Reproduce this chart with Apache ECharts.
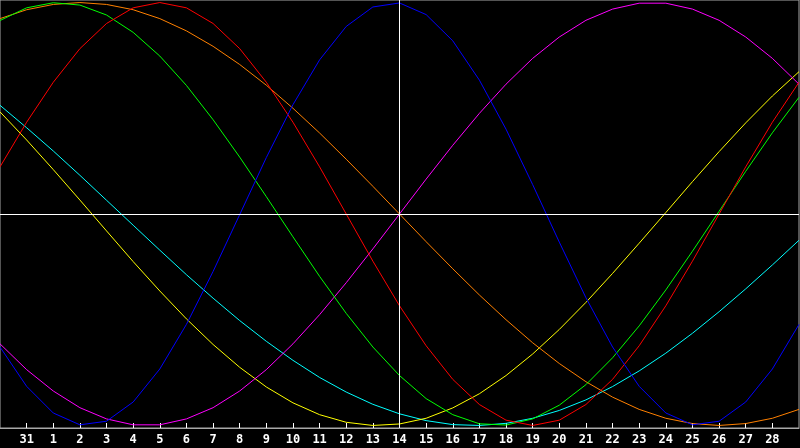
<!DOCTYPE html>
<html>
<head>
    <meta charset="utf-8">
    <title>Biorhythm</title>
    <script src="https://cdn.jsdelivr.net/npm/echarts@6/dist/echarts.min.js"></script>
    <style>
        html, body { margin: 0; padding: 0; background: #000; }
        #main { width: 800px; height: 448px; }
    </style>
</head>
<body>
<div id="main"></div>
<script type="text/javascript">
    // day labels, first and last sit on the frame and are not printed
    var days = ['30', '31', '1', '2', '3', '4', '5', '6', '7', '8', '9', '10', '11', '12', '13', '14',
        '15', '16', '17', '18', '19', '20', '21', '22', '23', '24', '25', '26', '27', '28', '29'];
    var today = '14';

    var blue = [-0.629, -0.815, -0.941, -0.997, -0.980, -0.889, -0.733, -0.522, -0.272, -0.003, 0.267,
        0.517, 0.729, 0.887, 0.979, 0.998, 0.943, 0.819, 0.633, 0.401, 0.139, -0.133, -0.396, -0.629,
        -0.815, -0.941, -0.997, -0.980, -0.889, -0.733, -0.522];
    var red = [0.223, 0.434, 0.623, 0.782, 0.901, 0.975, 1.000, 0.975, 0.901, 0.782, 0.623, 0.434,
        0.223, 0, -0.223, -0.434, -0.623, -0.782, -0.901, -0.975, -1.000, -0.975, -0.901, -0.782,
        -0.623, -0.434, -0.223, 0, 0.223, 0.434, 0.623];
    var green = [0.915, 0.975, 0.999, 0.988, 0.941, 0.859, 0.747, 0.608, 0.446, 0.269, 0.082, -0.108,
        -0.295, -0.470, -0.629, -0.764, -0.873, -0.949, -0.992, -0.998, -0.969, -0.904, -0.807, -0.680,
        -0.529, -0.359, -0.176, 0.013, 0.202, 0.384, 0.552];
    var orange = [0.924, 0.966, 0.991, 1.000, 0.991, 0.966, 0.924, 0.866, 0.793, 0.707, 0.609, 0.500,
        0.383, 0.259, 0.131, 0, -0.131, -0.259, -0.383, -0.500, -0.609, -0.707, -0.793, -0.866,
        -0.924, -0.966, -0.991, -1.000, -0.991, -0.966, -0.924];
    var magenta = [-0.614, -0.736, -0.837, -0.916, -0.969, -0.997, -0.997, -0.969, -0.916, -0.837,
        -0.736, -0.614, -0.476, -0.325, -0.165, 0, 0.165, 0.325, 0.476, 0.614, 0.736, 0.837, 0.916,
        0.969, 0.997, 0.997, 0.969, 0.916, 0.837, 0.736, 0.614];
    var cyan = [0.514, 0.408, 0.298, 0.183, 0.065, -0.053, -0.171, -0.287, -0.398, -0.504, -0.602,
        -0.692, -0.773, -0.842, -0.900, -0.945, -0.977, -0.996, -1.000, -0.990, -0.966, -0.929, -0.879,
        -0.816, -0.742, -0.658, -0.564, -0.462, -0.354, -0.241, -0.124];
    var yellow = [0.483, 0.350, 0.210, 0.066, -0.080, -0.225, -0.364, -0.496, -0.617, -0.725, -0.818,
        -0.893, -0.949, -0.985, -1.000, -0.993, -0.966, -0.917, -0.850, -0.764, -0.662, -0.546, -0.418,
        -0.281, -0.138, 0.007, 0.153, 0.295, 0.431, 0.558, 0.673];

    var curves = [
        { data: cyan, color: '#00ffff' },
        { data: yellow, color: '#ffff00' },
        { data: magenta, color: '#ff00ff' },
        { data: orange, color: '#ff8000' },
        { data: green, color: '#00ff00' },
        { data: red, color: '#ff0000' },
        { data: blue, color: '#0000ff' }
    ];

    function inner(index) {
        return index > 0 && index < days.length - 1;
    }

    var myChart = echarts.init(document.getElementById('main'));

    var series = curves.map(function (c) {
        return {
            type: 'line',
            data: c.data,
            symbol: 'none',
            silent: true,
            lineStyle: { color: c.color, width: 1 }
        };
    });

    // today marker and zero line
    series.push({
        type: 'line',
        data: [],
        markLine: {
            silent: true,
            symbol: 'none',
            label: { show: false },
            lineStyle: { color: '#ffffff', width: 1, type: 'solid' },
            data: [{ xAxis: today }, { yAxis: 0 }]
        }
    });

    var option = {
        backgroundColor: '#000000',
        animation: false,
        grid: {
            left: 0,
            right: 1,
            top: 0,
            bottom: 20,
            show: true,
            borderColor: '#a8a8a8',
            borderWidth: 1
        },
        xAxis: {
            type: 'category',
            boundaryGap: false,
            data: days,
            axisLine: { onZero: false, lineStyle: { color: '#a8a8a8', width: 1 } },
            axisTick: {
                inside: true,
                length: 5,
                interval: inner,
                lineStyle: { color: '#ffffff' }
            },
            axisLabel: {
                interval: inner,
                color: '#ffffff',
                fontFamily: 'DejaVu Sans Mono',
                fontWeight: 'bold',
                fontSize: 12,
                margin: 6
            },
            splitLine: { show: false }
        },
        yAxis: {
            type: 'value',
            min: -1.012,
            max: 1.012,
            show: false
        },
        series: series
    };
    myChart.setOption(option);
</script>
</body>
</html>
